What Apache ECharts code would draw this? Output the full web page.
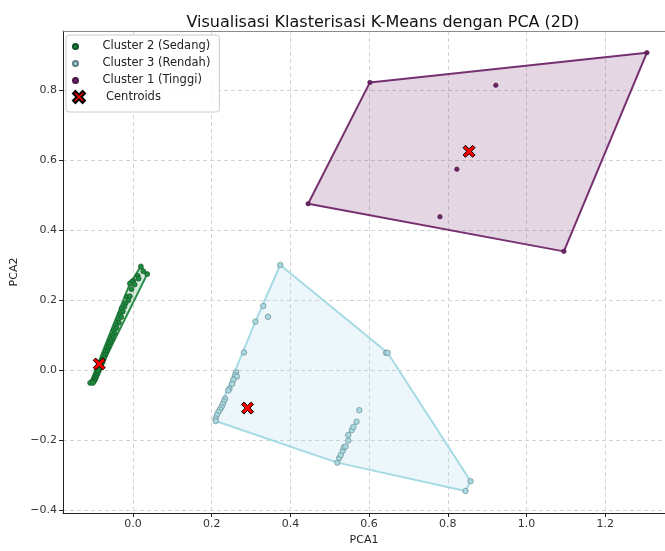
<!DOCTYPE html>
<html><head><meta charset="utf-8">
<script src="https://cdn.jsdelivr.net/npm/echarts@6/dist/echarts.min.js"></script>
<style>html,body{margin:0;padding:0;background:#fff}#c{width:665px;height:551px}</style>
</head><body><div id="c"></div>
<script>
const xTicks = [0, 0.2, 0.4, 0.6, 0.8, 1.0, 1.2];
const yTicks = [-0.4, -0.2, 0, 0.2, 0.4, 0.6, 0.8];

const clusterNames = ['Cluster 2 (Sedang)', 'Cluster 3 (Rendah)', 'Cluster 1 (Tinggi)'];

const cluster2 = [
  [0.020,0.297],[0.036,0.275],[0.026,0.283],[0.012,0.270],[0.014,0.262],[0.001,0.256],
  [-0.003,0.253],[-0.008,0.248],[0.004,0.245],[-0.004,0.232],[-0.016,0.210],[-0.008,0.212],
  [-0.012,0.200],[-0.019,0.192],[-0.022,0.182],[-0.029,0.177],[-0.026,0.168],[-0.033,0.160],
  [-0.030,0.152],[-0.038,0.145],[-0.036,0.136],[-0.044,0.130],[-0.042,0.121],[-0.049,0.115],
  [-0.047,0.106],[-0.053,0.100],[-0.052,0.092],[-0.058,0.087],[-0.057,0.080],[-0.062,0.075],
  [-0.062,0.068],[-0.066,0.063],[-0.066,0.056],[-0.070,0.052],[-0.070,0.045],[-0.074,0.041],
  [-0.074,0.034],[-0.078,0.030],[-0.077,0.024],[-0.081,0.020],[-0.081,0.014],[-0.085,0.011],
  [-0.084,0.006],[-0.088,0.003],[-0.087,-0.002],[-0.091,-0.005],[-0.090,-0.010],[-0.094,-0.013],
  [-0.093,-0.018],[-0.097,-0.020],[-0.096,-0.025],[-0.100,-0.027],[-0.099,-0.031],[-0.104,-0.032],
  [-0.109,-0.036],[-0.102,-0.036],[-0.089,0.001],[-0.086,0.009],[-0.083,0.016],[-0.079,0.026]
];
const cluster3 = [
  [0.374,0.301],[0.331,0.184],[0.343,0.153],[0.311,0.139],[0.282,0.051],
  [0.262,-0.006],[0.259,-0.014],[0.264,-0.018],[0.255,-0.027],[0.252,-0.039],[0.245,-0.053],
  [0.242,-0.058],[0.234,-0.081],[0.231,-0.089],[0.228,-0.097],[0.225,-0.105],[0.221,-0.112],
  [0.217,-0.119],[0.213,-0.128],[0.210,-0.138],[0.210,-0.145],
  [0.643,0.050],[0.647,0.050],[0.858,-0.317],[0.845,-0.345],[0.519,-0.264],
  [0.524,-0.251],[0.528,-0.242],[0.533,-0.230],[0.536,-0.220],[0.540,-0.218],[0.547,-0.201],
  [0.547,-0.185],[0.556,-0.171],[0.560,-0.162],[0.568,-0.147],[0.575,-0.114]
];
const cluster1 = [
  [0.445,0.476],[0.602,0.823],[1.306,0.908],[1.095,0.340],[0.922,0.815],[0.823,0.575],[0.780,0.439]
];
const centroids = [[-0.086,0.018],[0.291,-0.108],[0.854,0.626]];

const pointColors = ['#1f8a3f', '#a9d9e0', '#6b2466'];
const pointBorders = ['#0f4f22', '#5c7f85', '#4a1447'];
const pointSizes = [5, 5.5, 4.5];
const hullLines = ['#2a8c47', '#a6dbe3', '#763070'];
const hullFills = ['rgba(60,160,90,0.22)', 'rgba(173,216,230,0.22)', 'rgba(118,48,112,0.2)'];

function convexHull(points) {
  const p = points.slice().sort((a, b) => a[0] - b[0] || a[1] - b[1]);
  const cross = (o, a, b) => (a[0]-o[0])*(b[1]-o[1]) - (a[1]-o[1])*(b[0]-o[0]);
  const lower = [];
  for (const pt of p) { while (lower.length >= 2 && cross(lower[lower.length-2], lower[lower.length-1], pt) <= 0) lower.pop(); lower.push(pt); }
  const upper = [];
  for (let i = p.length - 1; i >= 0; i--) { const pt = p[i]; while (upper.length >= 2 && cross(upper[upper.length-2], upper[upper.length-1], pt) <= 0) upper.pop(); upper.push(pt); }
  upper.pop(); lower.pop();
  return lower.concat(upper);
}

const clusters = [cluster2, cluster3, cluster1];
const xPath = 'path://M0,2 L2,0 L5,3 L8,0 L10,2 L7,5 L10,8 L8,10 L5,7 L2,10 L0,8 L3,5 Z';
const fmt = v => (Math.abs(v) < 1e-9 ? '0.0' : v.toFixed(1)).replace('-', '\u2212');

const series = [];
clusters.forEach((c, i) => {
  const hull = convexHull(c);
  series.push({
    type: 'custom', name: 'hull' + i, data: hull, z: 1, silent: true,
    renderItem: function (params, api) {
      if (params.dataIndex !== 0) return null;
      const pts = hull.map(p => api.coord(p));
      return { type: 'polygon', shape: { points: pts },
        style: { fill: hullFills[i], stroke: hullLines[i], lineWidth: 2, lineJoin: 'round' } };
    }
  });
});
clusters.forEach((c, i) => {
  series.push({
    type: 'scatter', name: clusterNames[i], data: c, z: 3, symbol: 'circle', symbolSize: pointSizes[i],
    itemStyle: { color: pointColors[i], borderColor: pointBorders[i], borderWidth: 0.6, opacity: 1 }
  });
});
series.push({
  type: 'scatter', name: 'Centroids', data: centroids, z: 5, symbol: xPath, symbolSize: 12,
  itemStyle: { color: '#ff0000', borderColor: '#000', borderWidth: 1, opacity: 1 }
});

const axisFont = { fontFamily: 'DejaVu Sans', fontSize: 11, color: '#333' };
const legendFont = { fontFamily: 'DejaVu Sans', fontSize: 11.5, color: '#222', padding: [0, 0, 0, 14], lineHeight: 13 };
const chart = echarts.init(document.getElementById('c'), null, { renderer: 'canvas' });
chart.setOption({
  animation: false,
  backgroundColor: '#fff',
  title: { text: 'Visualisasi Klasterisasi K-Means dengan PCA (2D)', left: 378, top: 10, textAlign: 'center',
    textStyle: { fontFamily: 'DejaVu Sans', fontSize: 16, fontWeight: 'normal', color: '#111' } },
  legend: [
    { data: clusterNames.map(n => ({ name: n, icon: 'circle' })), orient: 'vertical',
      left: 66, top: 35, itemWidth: 16, itemHeight: 5, itemGap: 4,
      padding: [5, 9, 25, 6], backgroundColor: 'rgba(255,255,255,0.85)', borderColor: '#cccccc', borderWidth: 1, borderRadius: 3,
      textStyle: legendFont, selectedMode: false, z: 10 },
    { data: [{ name: 'Centroids', icon: xPath }], orient: 'vertical', left: 72, top: 90,
      itemWidth: 16, itemHeight: 12, padding: 0,
      textStyle: legendFont, selectedMode: false, z: 11 }
  ],
  grid: { left: 63, top: 31, right: 0, bottom: 32, show: false },
  xAxis: [
    { type: 'value', min: -0.178, max: 1.352, name: 'PCA1', nameLocation: 'middle', nameGap: 22,
      nameTextStyle: { fontFamily: 'DejaVu Sans', fontSize: 11, color: '#222' },
      axisLine: { show: true, onZero: false, lineStyle: { color: '#222', width: 1 } },
      axisTick: { show: true, length: 4, customValues: xTicks, lineStyle: { color: '#222' } },
      axisLabel: Object.assign({ customValues: xTicks, formatter: fmt, margin: 6 }, axisFont),
      splitLine: { show: true, lineStyle: { color: '#d3d3d3', type: [4, 3], width: 1 } } },
    { type: 'value', position: 'top', min: -0.178, max: 1.352,
      axisLine: { show: true, onZero: false, lineStyle: { color: '#8a8a8a', width: 1 } },
      axisTick: { show: false }, axisLabel: { show: false }, splitLine: { show: false } }
  ],
  yAxis: { type: 'value', min: -0.408, max: 0.970, name: 'PCA2', nameLocation: 'middle', nameGap: 38, nameRotate: 90,
    nameTextStyle: { fontFamily: 'DejaVu Sans', fontSize: 11, color: '#222' },
    axisLine: { show: true, onZero: false, lineStyle: { color: '#222', width: 1 } },
    axisTick: { show: true, length: 4, customValues: yTicks, lineStyle: { color: '#222' } },
    axisLabel: Object.assign({ customValues: yTicks, formatter: fmt, margin: 6 }, axisFont),
    splitLine: { show: true, lineStyle: { color: '#d3d3d3', type: [4, 3], width: 1 } } },
  series: series
});
</script>
</body></html>
